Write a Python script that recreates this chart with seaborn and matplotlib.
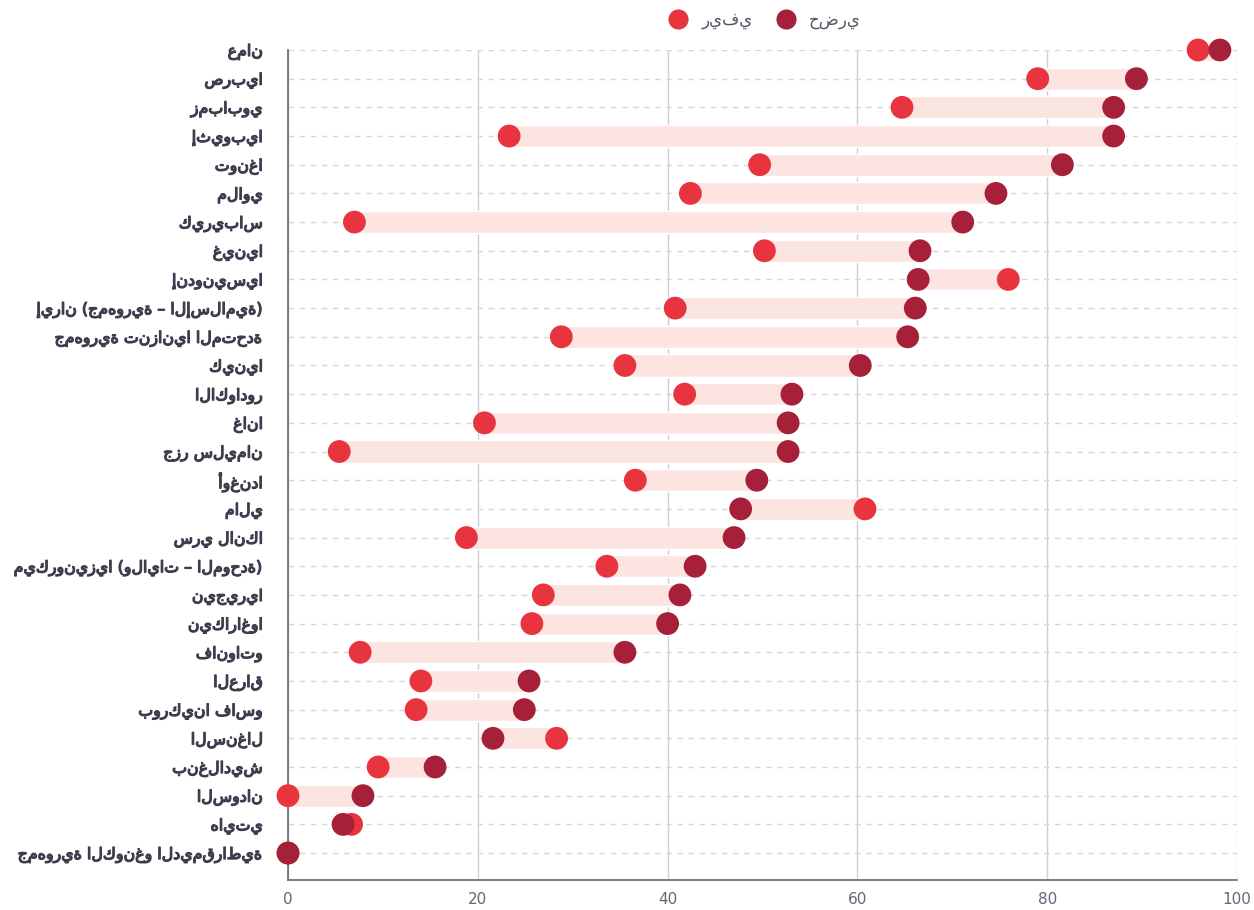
import numpy as np
import pandas as pd
import matplotlib
matplotlib.use("Agg")
import matplotlib.pyplot as plt
import matplotlib.patheffects as pe
from matplotlib.lines import Line2D
import seaborn as sns

countries = ["عمان", "صربيا", "زمبابوي", "إثيوبيا", "تونغا", "ملاوي", "كيريباس", "غينيا",
             "إندونيسيا", "إيران (جمهورية – الإسلامية)", "جمهورية تنزانيا المتحدة", "كينيا",
             "الاكوادور", "غانا", "جزر سليمان", "أوغندا", "مالي", "سري لانكا",
             "ميكرونيزيا (ولايات – الموحدة)", "نيجيريا", "نيكاراغوا", "فانواتو", "العراق",
             "بوركينا فاسو", "السنغال", "بنغلاديش", "السودان", "هايتي",
             "جمهورية الكونغو الديمقراطية"]
rural = [95.9, 79.0, 64.7, 23.3, 49.7, 42.4, 7.0, 50.2, 75.9, 40.8, 28.8, 35.5, 41.8, 20.7,
         5.4, 36.6, 60.8, 18.8, 33.6, 26.9, 25.7, 7.6, 14.0, 13.5, 28.3, 9.5, 0.0, 6.7, 0.0]
urban = [98.2, 89.4, 87.0, 87.0, 81.6, 74.6, 71.1, 66.6, 66.4, 66.1, 65.3, 60.3, 53.1, 52.7,
         52.7, 49.4, 47.7, 47.0, 42.9, 41.3, 40.0, 35.5, 25.4, 24.9, 21.6, 15.5, 7.9, 5.8, 0.0]
series_names = ["ريفي", "حضري"]
xticks = [0, 20, 40, 60, 80, 100]

df = pd.DataFrame({
    "country": countries * 2,
    "value": rural + urban,
    "type": [series_names[0]] * len(countries) + [series_names[1]] * len(countries),
})

sns.set_theme(style="white")
plt.rcParams["font.family"] = ["DejaVu Sans"]

c_rural = "#e8343f"
c_urban = "#a6203a"
c_bar = "#fce4e0"
c_label = "#3d3d4e"

fig = plt.figure(figsize=(12.54, 9.10), dpi=100)
ax = fig.add_axes([288 / 1254, 30 / 910, 949 / 1254, 830 / 910])

# pale band between the two values
lo = np.minimum(rural, urban)
hi = np.maximum(rural, urban)
ax.barh(countries, hi - lo, left=lo, height=0.77, color=c_bar, zorder=2)

sns.scatterplot(data=df, x="value", y="country", hue="type",
                palette={series_names[0]: c_rural, series_names[1]: c_urban},
                s=270, linewidth=0, alpha=1, legend=False, ax=ax, zorder=3, clip_on=False)

ax.set_xlim(0, 100)
ax.set_ylim(len(countries) - 1 + 0.94, 0)
ax.set_xticks(xticks)
ax.set_xlabel("")
ax.set_ylabel("")

ax.xaxis.grid(True, color="#cfcfd8", linewidth=1, linestyle="-", zorder=0)
ax.yaxis.grid(True, color="#d6d6de", linewidth=1, linestyle=(0, (4, 4)), zorder=0)
ax.set_axisbelow(True)

for s in ["top", "right"]:
    ax.spines[s].set_visible(False)
for s in ["left", "bottom"]:
    ax.spines[s].set_color("#666677")
    ax.spines[s].set_linewidth(1.2)

ax.tick_params(axis="x", length=0, pad=9, labelsize=11, labelcolor="#666677")
ax.tick_params(axis="y", length=0, pad=18, labelsize=11.4, labelcolor=c_label)
# DejaVu bold arabic is much wider, so fake the weight with a thin stroke
for t in ax.get_yticklabels():
    t.set_path_effects([pe.withStroke(linewidth=0.9, foreground=c_label)])

handles = [Line2D([], [], marker="o", linestyle="", markersize=14.5, color=c_rural, markeredgewidth=0),
           Line2D([], [], marker="o", linestyle="", markersize=14.5, color=c_urban, markeredgewidth=0)]
fig.legend(handles, series_names, loc="upper center",
           bbox_to_anchor=(0.607, 1.005), ncol=2, frameon=False, fontsize=12,
           labelcolor="#555566", handletextpad=0.4, columnspacing=1.0)

fig.savefig("out.png", dpi=100)
